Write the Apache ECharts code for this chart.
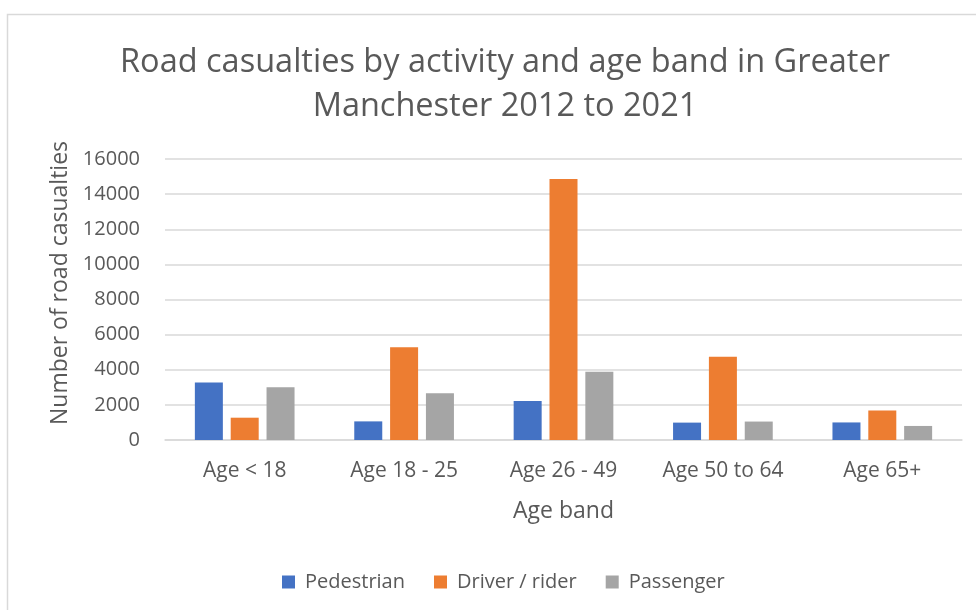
<!DOCTYPE html>
<html>
<head>
<meta charset="utf-8">
<script src="https://cdn.jsdelivr.net/npm/echarts@6/dist/echarts.min.js"></script>
<style>
  html, body { margin: 0; padding: 0; background: #ffffff; }
  #chart { width: 976px; height: 610px; }
</style>
</head>
<body>
<div id="chart"></div>
<script>
// Age bands on the category axis
const ageBands = ['Age < 18', 'Age 18 - 25', 'Age 26 - 49', 'Age 50 to 64', 'Age 65+'];

// Casualties per activity, 2012 to 2021
const pedestrian = [3270, 1060, 2220, 990, 1000];
const driverRider = [1270, 5280, 14860, 4740, 1680];
const passenger = [3000, 2660, 3880, 1050, 800];

// Value axis ticks
const yTicks = [0, 2000, 4000, 6000, 8000, 10000, 12000, 14000, 16000];

const FONT = '"Open Sans", "Noto Sans", sans-serif';
const TEXT = '#595959';
const GRID = '#D9D9D9';

const chart = echarts.init(document.getElementById('chart'), null, { renderer: 'canvas' });

function barSeries(name, data, color) {
  return {
    name: name,
    type: 'bar',
    data: data,
    barWidth: 28,
    barGap: '28%',
    itemStyle: { color: color },
    emphasis: { disabled: true }
  };
}

chart.setOption({
  animation: false,
  textStyle: { fontFamily: FONT, color: TEXT },
  graphic: [{
    type: 'rect',
    shape: { x: 7.5, y: 14.5, width: 1000, height: 700 },
    style: { fill: 'none', stroke: GRID, lineWidth: 1.5 },
    silent: true,
    z: -1
  }],
  title: {
    text: 'Road casualties by activity and age band in Greater\nManchester 2012 to 2021',
    left: 500,
    top: 36,
    textAlign: 'center',
    textStyle: {
      fontFamily: FONT,
      fontWeight: 'normal',
      fontSize: 32.5,
      lineHeight: 44,
      color: TEXT
    }
  },
  legend: {
    data: ['Pedestrian', 'Driver / rider', 'Passenger'],
    left: 277,
    top: 567,
    icon: 'rect',
    itemWidth: 13,
    itemHeight: 13,
    itemGap: 29,
    textStyle: { fontFamily: FONT, fontSize: 20, color: TEXT, padding: [0, 0, 0, 5] }
  },
  grid: {
    left: 165,
    right: 14,
    top: 159,
    bottom: 170,
    containLabel: false
  },
  xAxis: {
    type: 'category',
    data: ageBands,
    name: 'Age band',
    nameLocation: 'middle',
    nameGap: 60,
    nameTextStyle: { fontFamily: FONT, fontSize: 23, color: TEXT },
    axisLine: { lineStyle: { color: GRID, width: 1.5 } },
    axisTick: { show: false },
    axisLabel: { fontFamily: FONT, fontSize: 21, color: TEXT, margin: 21 }
  },
  yAxis: {
    type: 'value',
    min: yTicks[0],
    max: yTicks[yTicks.length - 1],
    interval: yTicks[1] - yTicks[0],
    name: 'Number of road casualties',
    nameLocation: 'middle',
    nameGap: 85,
    nameRotate: 90,
    nameTextStyle: { fontFamily: FONT, fontSize: 23, color: TEXT, padding: [0, 0, 0, 33] },
    axisLine: { show: false },
    axisTick: { show: false },
    axisLabel: {
      fontFamily: FONT, fontSize: 20, color: TEXT, margin: 25,
      formatter: function (v) { return String(v); }
    },
    splitLine: { lineStyle: { color: GRID, width: 1.5 } }
  },
  series: [
    barSeries('Pedestrian', pedestrian, '#4472C4'),
    barSeries('Driver / rider', driverRider, '#ED7D31'),
    barSeries('Passenger', passenger, '#A5A5A5')
  ]
});
</script>
</body>
</html>
